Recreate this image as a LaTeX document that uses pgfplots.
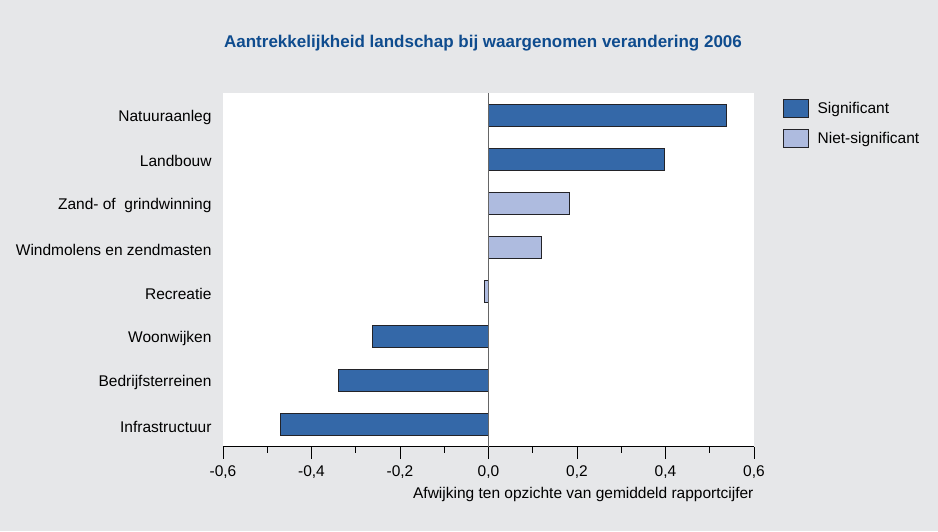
\documentclass[border=0pt]{standalone}
\usepackage{pgfplots}
\pgfplotsset{compat=1.18}
\usepackage{fontspec}
\setmainfont{Liberation Sans}
\definecolor{bg}{RGB}{230,231,233}
\definecolor{sig}{RGB}{52,104,168}
\definecolor{nsig}{RGB}{174,187,223}
\definecolor{titleblue}{RGB}{15,76,142}
\definecolor{edge}{RGB}{35,35,40}
\begin{document}
\begin{tikzpicture}[x=1pt,y=1pt]
\fill[bg] (0,0) rectangle (938,-531);
\useasboundingbox (0,0) rectangle (938,-531);
\node[font=\bfseries\fontsize{17}{20}\selectfont, text=titleblue] at (483,-43) {Aantrekkelijkheid landschap bij waargenomen verandering 2006};
\begin{axis}[
  at={(223pt,-446.7pt)}, anchor=south west,
  scale only axis, width=531pt, height=353.7pt,
  xmin=-0.6, xmax=0.6, ymin=-0.5, ymax=7.5,
  axis background/.style={fill=white},
  axis x line*=bottom, axis y line*=left,
  y axis line style={draw=none},
  x axis line style={line width=0.8pt, black, -},
  xtick={-0.6,-0.4,-0.2,0,0.2,0.4,0.6},
  xticklabels={{-0,6},{-0,4},{-0,2},{0,0},{0,2},{0,4},{0,6}},
  minor xtick={-0.5,-0.3,-0.1,0.1,0.3,0.5},
  tick align=outside,
  major tick length=12pt, minor tick length=6pt,
  x tick style={black, line width=0.6pt},
  ytick={0,...,7},
  yticklabels={Infrastructuur,Bedrijfsterreinen,Woonwijken,Recreatie,Windmolens en zendmasten,{Zand- of\ \ grindwinning},Landbouw,Natuuraanleg},
  y tick style={draw=none},
  ticklabel style={font=\fontsize{15.5}{18}\selectfont},
  xticklabel style={yshift=-3pt},
  yticklabel style={xshift=4pt, yshift=-2pt},
  xbar, bar width=22pt, bar shift=0pt,
  legend style={at={(783pt-223pt,-99pt+446.7pt)}, anchor=north west, draw=none, fill=none,
     font=\fontsize{15.5}{18}\selectfont, row sep=11pt, inner sep=0pt},
  legend cell align=left,
  legend image code/.code={\draw[#1,line width=0.9pt] (0pt,-9pt) rectangle (25pt,9pt); \path[draw=none,fill=none] (0pt,0pt) -- (32pt,0pt);},
  clip=false,
]
\addplot[fill=sig, draw=edge, line width=1pt] coordinates {
 (-0.471,0) (-0.340,1) (-0.263,2) (0.397,6) (0.537,7)};
\addlegendentry{Significant}
\addplot[fill=nsig, draw=edge, line width=1pt] coordinates {
 (-0.010,3) (0.119,4) (0.184,5)};
\addlegendentry{Niet-significant}
\draw[gray!80!black, line width=1.2pt] (axis cs:0,-0.5) -- (axis cs:0,7.5);
\end{axis}
\node[anchor=east, font=\fontsize{15.5}{18}\selectfont] at (757,-494) {Afwijking ten opzichte van gemiddeld rapportcijfer};
\end{tikzpicture}
\end{document}
